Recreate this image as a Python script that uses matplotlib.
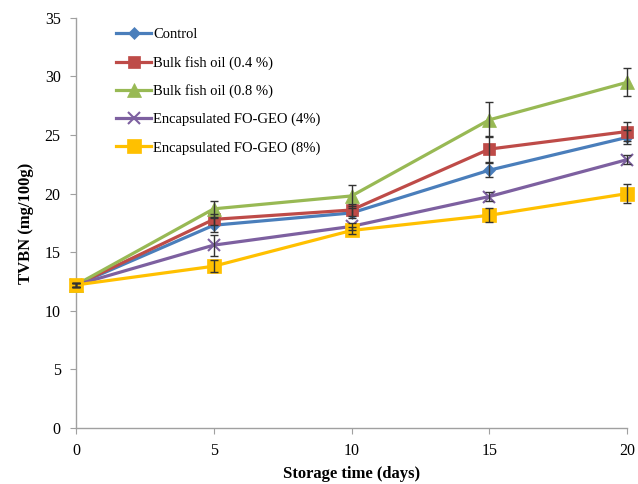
import matplotlib
matplotlib.use("Agg")
import matplotlib.pyplot as plt

days = [0, 5, 10, 15, 20]
labels = ["Control", "Bulk fish oil (0.4 %)", "Bulk fish oil (0.8 %)",
          "Encapsulated FO-GEO (4%)", "Encapsulated FO-GEO (8%)"]
control = [12.2, 17.3, 18.35, 22.0, 24.8]
bulk04 = [12.2, 17.8, 18.6, 23.8, 25.3]
bulk08 = [12.2, 18.7, 19.8, 26.3, 29.5]
enc4 = [12.2, 15.6, 17.2, 19.75, 22.9]
enc8 = [12.2, 13.8, 16.85, 18.15, 20.0]
err_control = [0.2, 0.6, 0.4, 0.6, 0.6]
err_bulk04 = [0.2, 0.5, 0.5, 1.1, 0.8]
err_bulk08 = [0.2, 0.7, 0.9, 1.5, 1.2]
err_enc4 = [0.2, 0.9, 0.3, 0.4, 0.4]
err_enc8 = [0.2, 0.5, 0.3, 0.6, 0.8]

plt.rcParams['font.family'] = ['Liberation Serif', 'DejaVu Serif']

fig = plt.figure(figsize=(6.38, 4.84), dpi=100)
ax = fig.add_axes([0.119, 0.116, 0.864, 0.847])

series = [
    (control, err_control, '#4A7EBB', 'D', 6.5),
    (bulk04, err_bulk04, '#BE4B48', 's', 9),
    (bulk08, err_bulk08, '#98B954', '^', 10),
    (enc4, err_enc4, '#7D60A0', 'x', 9),
    (enc8, err_enc8, '#FFC000', 's', 10),
]
for (vals, errs, col, mk, ms), lab in zip(series, labels):
    ax.plot(days, vals, color=col, lw=2.3, marker=mk, ms=ms,
            mew=1.5 if mk == 'x' else 0.5, mec=col, label=lab, zorder=3,
            clip_on=False)
    ax.errorbar(days, vals, yerr=errs, fmt='none', ecolor='#333333',
                elinewidth=1.0, capsize=3, capthick=1.0, zorder=4,
                clip_on=False)

ax.set_xlim(0, 20)
ax.set_ylim(0, 35)
ax.set_xticks([0, 5, 10, 15, 20])
ax.set_yticks(range(0, 36, 5))
for s in ['top', 'right']:
    ax.spines[s].set_visible(False)
for s in ['left', 'bottom']:
    ax.spines[s].set_color('#A0A0A0')
    ax.spines[s].set_linewidth(1.0)
ax.tick_params(direction='out', length=4, color='#A0A0A0', labelsize=11.5, pad=7)
ax.set_xlabel('Storage time (days)', fontsize=12, fontweight='bold', labelpad=5)
ax.set_ylabel('TVBN (mg/100g)', fontsize=12, fontweight='bold', labelpad=8)

ax.legend(loc='upper left', bbox_to_anchor=(0.055, 1.0), frameon=False,
          fontsize=10.5, handlelength=2.4, handletextpad=0.1, labelspacing=1.0,
          borderaxespad=0.3)

fig.savefig('out.png', dpi=100)
